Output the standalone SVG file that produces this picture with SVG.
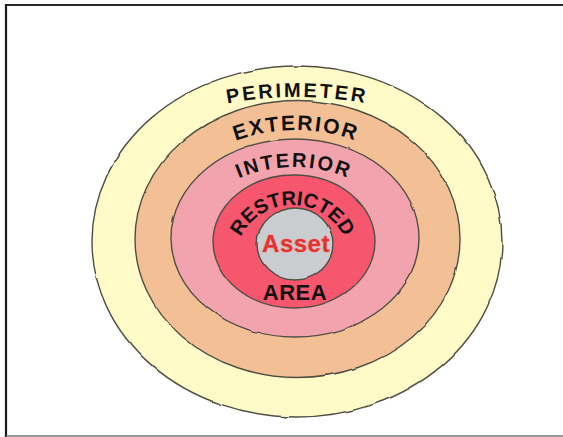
<svg xmlns="http://www.w3.org/2000/svg" width="563" height="437" viewBox="0 0 563 437">
  <style>
    .ring { stroke: #4f4f45; stroke-width: 1.4; filter: url(#wobble); }
    .lbl { font-family: "Liberation Sans", Arial, sans-serif; font-weight: bold; fill: #111; }
  </style>
  <defs>
    <filter id="wobble" x="-5%" y="-5%" width="110%" height="110%">
      <feTurbulence type="fractalNoise" baseFrequency="0.035" numOctaves="2" seed="3" result="n"/>
      <feDisplacementMap in="SourceGraphic" in2="n" scale="2.5" xChannelSelector="R" yChannelSelector="G"/>
    </filter>
    <path id="pPerim" d="M 150 126.6 A 380 380 0 0 1 444 126.6"/>
    <path id="pExt" d="M 146 216.8 A 173 173 0 0 1 446 216.8"/>
    <path id="pInt" d="M 174 234.9 A 140 140 0 0 1 414 234.9"/>
    <path id="pRes" d="M 234.5 263 A 58 58 0 0 1 350.5 263"/>
  </defs>
  <rect x="0" y="0" width="563" height="437" fill="#ffffff"/>
  <g id="frame">
    <line x1="6" y1="5" x2="563" y2="5" stroke="#2a2a2a" stroke-width="2"/>
    <line x1="6" y1="4" x2="6" y2="437" stroke="#1a1a1a" stroke-width="2.2"/>
    <line x1="6" y1="436" x2="563" y2="436" stroke="#777" stroke-width="1.6"/>
  </g>
  <g id="perimeter">
    <ellipse class="ring" cx="297" cy="241.5" rx="205" ry="175.5" fill="#fffbc8"/>
    <text class="lbl" font-size="20" letter-spacing="2.6"><textPath href="#pPerim" startOffset="50%" text-anchor="middle">PERIMETER</textPath></text>
  </g>
  <g id="exterior">
    <ellipse class="ring" cx="297.5" cy="239" rx="162.5" ry="138.5" fill="#f3c096"/>
    <text class="lbl" font-size="21" letter-spacing="2"><textPath href="#pExt" startOffset="50%" text-anchor="middle">EXTERIOR</textPath></text>
  </g>
  <g id="interior">
    <ellipse class="ring" cx="295" cy="238" rx="124" ry="99" fill="#f2a3ae"/>
    <text class="lbl" font-size="20" letter-spacing="2.2"><textPath href="#pInt" startOffset="50%" text-anchor="middle">INTERIOR</textPath></text>
  </g>
  <g id="restricted">
    <ellipse class="ring" cx="294" cy="241.5" rx="81" ry="66.5" fill="#f6566e"/>
    <text class="lbl" font-size="20" letter-spacing="0"><textPath href="#pRes" startOffset="50%" text-anchor="middle">RESTRICTED</textPath></text>
    <text class="lbl" x="295" y="300" font-size="22" letter-spacing="0.5" text-anchor="middle">AREA</text>
  </g>
  <g id="asset">
    <ellipse class="ring" cx="295" cy="244" rx="38" ry="36" fill="#c9cdd0"/>
    <text x="296" y="252" font-family="Liberation Sans, Arial, sans-serif" font-weight="bold" font-size="24" letter-spacing="0.5" text-anchor="middle" fill="#e0342e" stroke="#f3a0a0" stroke-width="1.2" paint-order="stroke">Asset</text>
  </g>
  <g id="connectors"/>
</svg>
